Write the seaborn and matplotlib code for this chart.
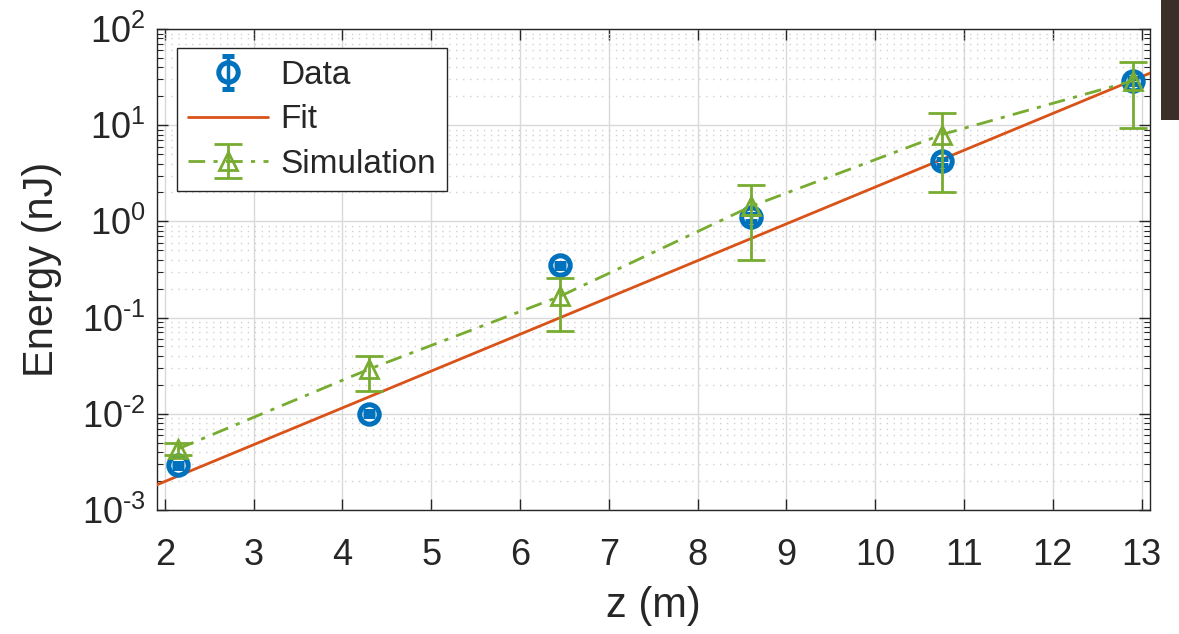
import numpy as np
import matplotlib
matplotlib.use("Agg")
import matplotlib.pyplot as plt
import seaborn as sns
from matplotlib.ticker import LogLocator, NullFormatter, MultipleLocator, FuncFormatter

# ------------------------------------------
# DATA
# ------------------------------------------
data_z = [2.15, 4.3, 6.45, 8.6, 10.75, 12.9]
data_e = [0.0029, 0.010, 0.35, 1.1, 4.2, 29.0]
data_err_lo = [0.0002, 0.0006, 0.02, 0.08, 0.3, 2.0]
data_err_hi = [0.0002, 0.0006, 0.02, 0.08, 0.3, 2.0]

sim_z = [2.15, 4.3, 6.45, 8.6, 10.75, 12.9]
sim_e = [0.0043, 0.029, 0.166, 1.43, 8.0, 29.0]
sim_lo = [0.0037, 0.017, 0.073, 0.40, 2.0, 9.3]
sim_hi = [0.0049, 0.040, 0.26, 2.4, 13.3, 46.0]

fit_z = [1.9, 13.1]
fit_e = [0.0018, 35.0]

blue = "#0072BD"
orange = "#D95319"
green = "#77AC30"
dark = "#262626"

# ------------------------------------------
# STYLE
# ------------------------------------------
sns.set_theme(style="white")
plt.rcParams["font.family"] = ["Liberation Sans", "DejaVu Sans"]
plt.rcParams["mathtext.fontset"] = "custom"
plt.rcParams["mathtext.rm"] = "Liberation Sans"
plt.rcParams["mathtext.it"] = "Liberation Sans"
plt.rcParams["mathtext.default"] = "regular"

fig = plt.figure(figsize=(11.79, 6.34), dpi=100)
ax = fig.add_axes([0.133, 0.196, 0.842, 0.758])

# fit line
sns.lineplot(x=fit_z, y=fit_e, ax=ax, color=orange, linewidth=2.0, label="Fit", zorder=3)

# data with (tiny) error bars and simulation with error bars
sim_yerr = [np.array(sim_e) - np.array(sim_lo), np.array(sim_hi) - np.array(sim_e)]
data_h = ax.errorbar(data_z, data_e, yerr=[data_err_lo, data_err_hi], fmt="o",
                     color=blue, ms=14, mfc="none", mew=3.6, elinewidth=2.5,
                     capsize=4, capthick=2.5, label="Data", zorder=4)
sim_h = ax.errorbar(sim_z, sim_e, yerr=sim_yerr, fmt="^", color=green,
                    ms=13, mfc="none", mew=2, ls=(0, (6, 3, 1.5, 3)), lw=2,
                    elinewidth=2, capsize=10, capthick=2, label="Simulation", zorder=5)

ax.set_yscale("log")
ax.set_xlim(1.91, 13.09)
ax.set_ylim(1e-3, 1e2)
ax.xaxis.set_major_locator(MultipleLocator(1))
ax.yaxis.set_major_locator(LogLocator(base=10, numticks=10))
ax.yaxis.set_major_formatter(FuncFormatter(
    lambda v, p: r"$10^{\text{%d}}$" % int(round(np.log10(v)))))
ax.yaxis.set_minor_locator(LogLocator(base=10, subs=np.arange(2, 10), numticks=20))
ax.yaxis.set_minor_formatter(NullFormatter())

# grid like MATLAB
ax.grid(True, which="major", color="#d9d9d9", linewidth=1.0, linestyle="-")
ax.grid(True, which="minor", axis="y", color="#d0d0d0", linewidth=1.0, linestyle=(0, (1, 4)))
ax.set_axisbelow(True)

for s in ax.spines.values():
    s.set_color(dark)
    s.set_linewidth(1.0)
    s.set_visible(True)

ax.tick_params(which="both", direction="in", top=True, right=True, bottom=True, left=True,
               colors=dark, labelcolor=dark)
ax.tick_params(which="major", length=8, width=1.0, labelsize=26)
ax.tick_params(axis="x", which="major", pad=20)
ax.tick_params(axis="y", which="major", pad=8)
ax.tick_params(which="minor", length=4, width=0.8)

ax.set_xlabel("z (m)", fontsize=30, color=dark, labelpad=10)
ax.set_ylabel("Energy (nJ)", fontsize=30, color=dark, labelpad=14)

fit_line = ax.get_lines()[0]
leg = ax.legend([data_h, fit_line, sim_h], ["Data", "Fit", "Simulation"],
                loc="upper left", bbox_to_anchor=(0.02, 0.96), fontsize=24,
                frameon=True, fancybox=False, edgecolor=dark,
                handlelength=2.4, borderpad=0.35, labelspacing=0.4,
                handletextpad=0.35, borderaxespad=0.0)
leg.get_frame().set_linewidth(1.0)
leg.get_frame().set_alpha(1.0)

# dark strip at top right of the screenshot
fig.patches.append(plt.Rectangle((0.985, 0.81), 0.015, 0.19, transform=fig.transFigure,
                                 facecolor="#3a3028", edgecolor="none", zorder=10))

fig.savefig("out.png", dpi=100)
